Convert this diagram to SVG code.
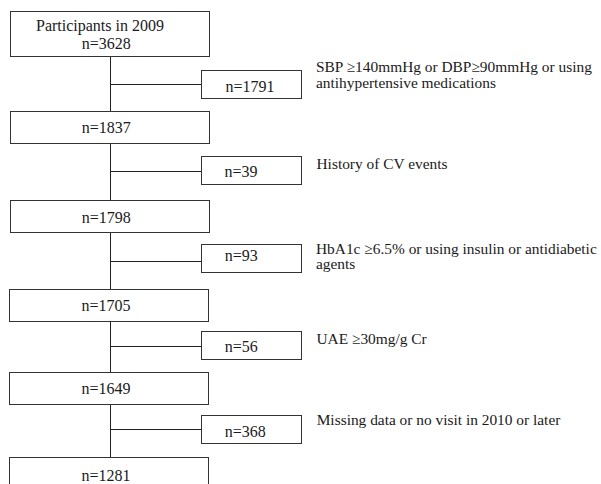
<svg xmlns="http://www.w3.org/2000/svg" width="601" height="484" viewBox="0 0 601 484">
<style>
.box{fill:#fff;stroke:#333;stroke-width:1}
.ln{fill:none;stroke:#222;stroke-width:1}
.t{font-family:"Liberation Serif","Times New Roman",serif;font-size:16px;fill:#1a1a1a}
.s{font-family:"Liberation Serif","Times New Roman",serif;font-size:15.4px;fill:#1a1a1a}
</style>
<rect width="601" height="484" fill="#fff"/>
<g id="connectors">
<path class="ln" d="M110.5 56.5V111.5M110.5 143.5V200.5M110.5 232.5V289.5M110.5 321.5V372.5M110.5 404.5V457.5"/>
<path class="ln" d="M110.5 84.5H201.5M110.5 171.5H201.5M110.5 261.5H201.5M110.5 346.5H201.5M110.5 429.5H201.5"/>
</g>
<g id="n3628"><rect class="box" x="10.5" y="11.5" width="199" height="45"/><text class="t" x="100" y="30.7" text-anchor="middle">Participants in 2009</text><text class="t" x="106.2" y="49.3" text-anchor="middle">n=3628</text></g>
<g id="n1837"><rect class="box" x="10.5" y="111.5" width="199" height="32"/><text class="t" x="106.3" y="133.3" text-anchor="middle">n=1837</text></g>
<g id="n1798"><rect class="box" x="10.5" y="200.5" width="199" height="32"/><text class="t" x="106.3" y="223.3" text-anchor="middle">n=1798</text></g>
<g id="n1705"><rect class="box" x="9.5" y="289.5" width="199" height="32"/><text class="t" x="106" y="311" text-anchor="middle">n=1705</text></g>
<g id="n1649"><rect class="box" x="9.5" y="372.5" width="199" height="32"/><text class="t" x="106" y="394.3" text-anchor="middle">n=1649</text></g>
<g id="n1281"><rect class="box" x="9.5" y="457.5" width="199" height="40"/><text class="t" x="106" y="480.7" text-anchor="middle">n=1281</text></g>
<g id="ex1791"><rect class="box" x="201.5" y="70.5" width="100" height="28"/><text class="t" x="225.5" y="92.3">n=1791</text><text class="s" x="316" y="72">SBP ≥140mmHg or DBP≥90mmHg or using</text><text class="s" x="316" y="87.5">antihypertensive medications</text></g>
<g id="ex39"><rect class="box" x="201.5" y="156.5" width="100" height="28"/><text class="t" x="224.5" y="176.7">n=39</text><text class="s" x="316.5" y="169">History of CV events</text></g>
<g id="ex93"><rect class="box" x="201.5" y="244.5" width="100" height="28"/><text class="t" x="224.7" y="260.7">n=93</text><text class="s" x="316" y="253.5">HbA1c ≥6.5% or using insulin or antidiabetic</text><text class="s" x="316" y="269">agents</text></g>
<g id="ex56"><rect class="box" x="201.5" y="331.5" width="100" height="28"/><text class="t" x="224.7" y="352.3">n=56</text><text class="s" x="316.5" y="344">UAE ≥30mg/g Cr</text></g>
<g id="ex368"><rect class="box" x="201.5" y="415.5" width="100" height="28"/><text class="t" x="224.7" y="436.5">n=368</text><text class="s" x="316.7" y="425">Missing data or no visit in 2010 or later</text></g>
</svg>
